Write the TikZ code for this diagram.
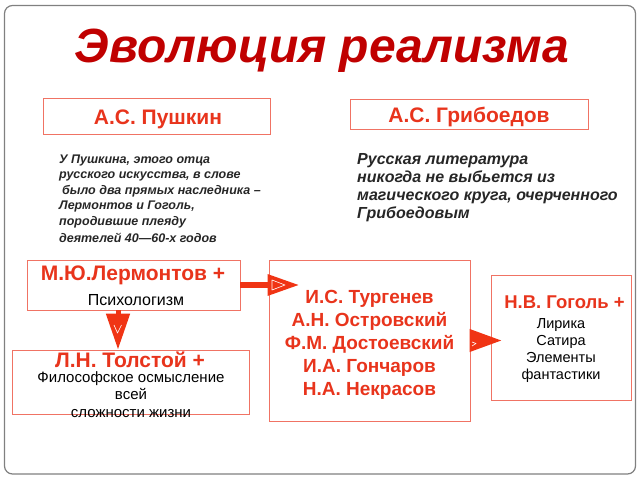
\documentclass[tikz,border=0pt]{standalone}
\usepackage{fontspec}
\setmainfont{Liberation Sans}
\usetikzlibrary{arrows.meta,calc}
\definecolor{frame}{RGB}{128,128,128}
\definecolor{boxred}{RGB}{240,115,100}
\definecolor{textred}{RGB}{232,52,28}
\definecolor{arrowred}{RGB}{240,52,20}
\definecolor{titlered}{RGB}{192,0,0}
\tikzset{
  box/.style={draw=boxred, line width=0.9pt, inner sep=0pt},
  redtxt/.style={text=textred, font=\fontsize{21}{23}\selectfont\bfseries, align=center, inner sep=0pt, anchor=base},
  blacktxt/.style={text=black, font=\fontsize{15}{17.5}\selectfont, align=center, inner sep=0pt, anchor=base},
  quote/.style={text=black!85, align=left, inner sep=0pt, anchor=base west},
  bigarrow/.style={draw=arrowred, line width=6pt, -{Triangle[length=32pt,width=20pt,fill=arrowred]}},
  glint/.style={draw=white, line width=0.6pt, line join=round}
}
\begin{document}
\begin{tikzpicture}[x=1pt,y=-1pt]
\useasboundingbox (0,0) rectangle (640,480);
\draw[frame, line width=1.2pt, rounded corners=8pt] (4.5,5.5) rectangle (635.5,474);
\node[anchor=base, inner sep=0pt] (title) at (322,62) {\fontsize{48}{48}\selectfont\bfseries\itshape\color{titlered}Эволюция реализма};
% top boxes
\node[box, minimum width=227pt, minimum height=36pt] (push) at (156.5,116) {};
\node[redtxt] (pusht) at (158,124.5) {А.С. Пушкин};
\node[box, minimum width=238pt, minimum height=30pt] (grib) at (469,114) {};
\node[redtxt] (gribt) at (469,122) {А.С. Грибоедов};
% quotes (base = last line)
\node[quote, font=\fontsize{12.5}{15.4}\selectfont\bfseries\itshape] (pq) at (59,242) {У Пушкина, этого отца\\русского искусства, в слове\\\hspace*{3pt}было два прямых наследника –\\Лермонтов и Гоголь,\\породившие плеяду\\[1.6pt]деятелей 40—60-х годов};
\node[quote, font=\fontsize{16}{18}\selectfont\bfseries\itshape] (gq) at (357,218) {Русская литература\\никогда не выбьется из\\магического круга, очерченного\\Грибоедовым};
% lower boxes
\node[box, minimum width=213pt, minimum height=50pt] (lerm) at (133.5,285) {};
\node[redtxt] (lermt) at (133,280) {М.Ю.Лермонтов +};
\node[blacktxt, font=\fontsize{16}{18}\selectfont] (lermp) at (136,305) {Психологизм};
\node[box, minimum width=237pt, minimum height=64pt] (tol) at (130.5,382) {};
\node[redtxt] (tolt) at (130,367) {Л.Н. Толстой +};
\node[blacktxt] (tolp) at (131,417) {Философское осмысление\\всей\\сложности жизни};
\node[box, minimum width=201pt, minimum height=161pt] (mid) at (369.5,340.5) {};
\node[redtxt, font=\fontsize{19}{23}\selectfont\bfseries] (midt) at (369.5,395) {И.С. Тургенев\\А.Н. Островский\\Ф.М. Достоевский\\И.А. Гончаров\\Н.А. Некрасов};
\node[box, minimum width=140pt, minimum height=125pt] (gog) at (561,337.5) {};
\node[redtxt, font=\fontsize{18.5}{20}\selectfont\bfseries] (gogt) at (564.5,308) {Н.В. Гоголь +};
\node[blacktxt, font=\fontsize{14.5}{16.7}\selectfont] (gogp) at (561,379) {Лирика\\Сатира\\Элементы\\фантастики};
% arrows
\draw[bigarrow, shorten >=-31pt] (lerm.east) -- (lerm.east -| mid.west);
\draw[bigarrow, line width=5pt, -{Triangle[length=36pt,width=23pt,fill=arrowred]}] ([xshift=-15.5pt]lerm.south) -- ([xshift=-12.5pt]tol.north);
\draw[bigarrow, line width=4pt, -{Triangle[length=32pt,width=22pt,fill=arrowred]}, shorten >=-11pt] (mid.east) -- (mid.east -| gog.west);
% highlights on arrow heads
\draw[glint] (272,280) -- (285,285) -- (272,290) -- cycle;
\draw[glint] (114,325) -- (117.5,333) -- (121.5,325);
\draw[glint] (472,342) -- (476,343.5) -- (472,346);
\end{tikzpicture}
\end{document}
